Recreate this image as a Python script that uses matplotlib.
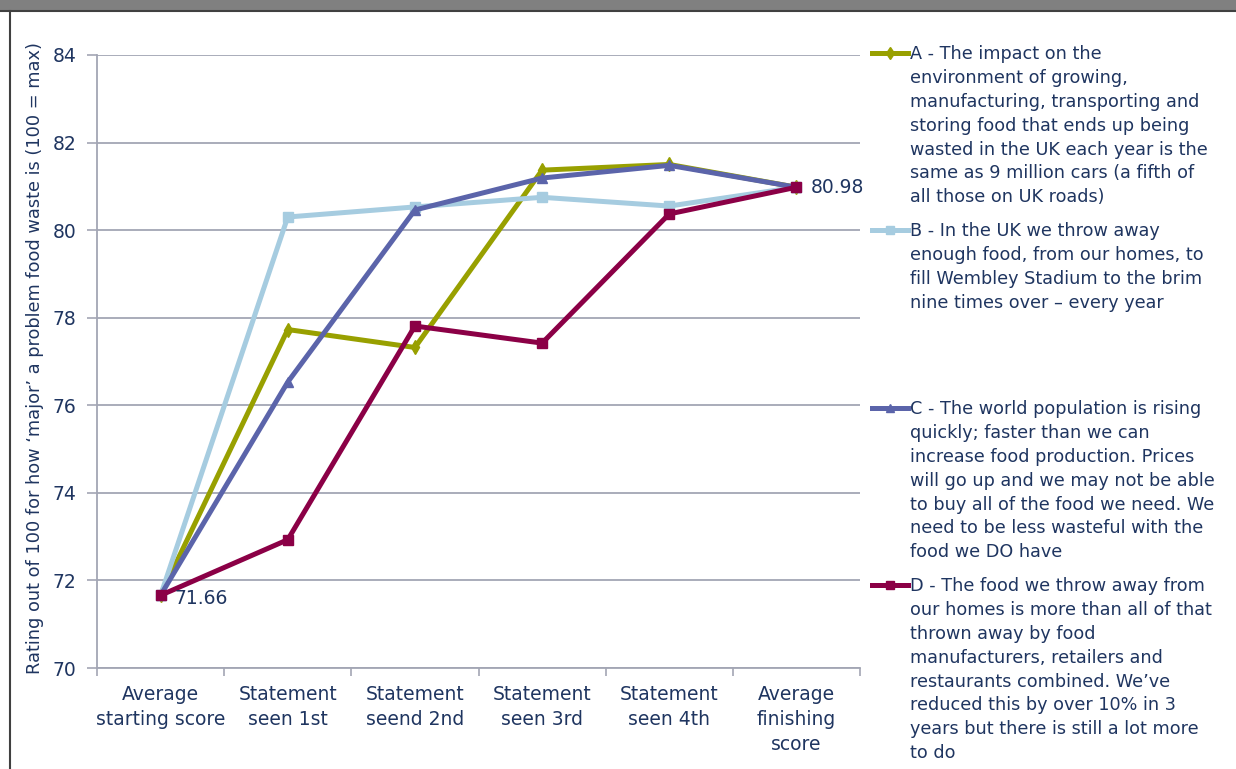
import matplotlib.pyplot as plt
from matplotlib.lines import Line2D
from matplotlib.patches import Rectangle

categories = ["Average\nstarting score", "Statement\nseen 1st", "Statement\nseend 2nd",
              "Statement\nseen 3rd", "Statement\nseen 4th", "Average\nfinishing\nscore"]

series_a = [71.66, 77.73, 77.32, 81.37, 81.50, 80.98]
series_b = [71.66, 80.30, 80.53, 80.75, 80.55, 80.98]
series_c = [71.66, 76.53, 80.46, 81.19, 81.48, 80.98]
series_d = [71.66, 72.93, 77.81, 77.42, 80.37, 80.98]

labels = [
    "A - The impact on the\nenvironment of growing,\nmanufacturing, transporting and\n"
    "storing food that ends up being\nwasted in the UK each year is the\n"
    "same as 9 million cars (a fifth of\nall those on UK roads)",
    "B - In the UK we throw away\nenough food, from our homes, to\n"
    "fill Wembley Stadium to the brim\nnine times over \u2013 every year",
    "C - The world population is rising\nquickly; faster than we can\n"
    "increase food production. Prices\nwill go up and we may not be able\n"
    "to buy all of the food we need. We\nneed to be less wasteful with the\nfood we DO have",
    "D - The food we throw away from\nour homes is more than all of that\n"
    "thrown away by food\nmanufacturers, retailers and\nrestaurants combined. We\u2019ve\n"
    "reduced this by over 10% in 3\nyears but there is still a lot more\nto do",
]

colors = ["#98A000", "#A6CCE0", "#5B64AA", "#8B0046"]
markers = ["d", "s", "^", "s"]
text_color = "#1F3560"
grid_color = "#A3A6B4"

plt.rcParams['font.family'] = ['DejaVu Sans']

W, H = 1236, 769
fig = plt.figure(figsize=(W / 100, H / 100), dpi=100)
ax = fig.add_axes([97 / W, 1 - 668 / H, (860 - 97) / W, (668 - 55) / H])

x = range(len(categories))
for vals, c, m in zip([series_a, series_b, series_c, series_d], colors, markers):
    ax.plot(x, vals, color=c, lw=3.6, marker=m, markersize=7, solid_joinstyle='miter')

ax.set_xlim(-0.5, len(categories) - 0.5)
ax.set_ylim(70, 84)
ax.set_yticks(range(70, 85, 2))
ax.set_xticks([i + 0.5 for i in range(-1, len(categories))], minor=False)
ax.set_xticklabels([])
ax.set_xticks(list(x), minor=True)
ax.set_xticklabels(categories, minor=True, fontsize=13.5, color=text_color, linespacing=1.4)
ax.tick_params(axis='x', which='minor', length=0, pad=12)
ax.tick_params(axis='x', which='major', length=6, color=grid_color, width=1.2)
ax.tick_params(axis='y', length=7, color=grid_color, width=1.2, labelsize=13.5,
               labelcolor=text_color, pad=8)
ax.yaxis.grid(True, color=grid_color, lw=1.3)
ax.set_axisbelow(True)
for s in ["top", "right"]:
    ax.spines[s].set_visible(False)
for s in ["left", "bottom"]:
    ax.spines[s].set_color(grid_color)
    ax.spines[s].set_linewidth(1.3)

ax.set_ylabel("Rating out of 100 for how \u2018major\u2019 a problem food waste is (100 = max)",
              fontsize=12.8, color=text_color, labelpad=8)
ax.yaxis.set_label_coords(-53 / (860 - 97), 0.506)

ax.annotate(f"{series_d[0]:.2f}", (0, series_d[0]), xytext=(10, -2), textcoords='offset points',
            va='center', ha='left', fontsize=13.5, color=text_color)
ax.annotate(f"{series_d[-1]:.2f}", (5, series_d[-1]), xytext=(10, 0), textcoords='offset points',
            va='center', ha='left', fontsize=13.5, color=text_color)

# legend built by hand
leg_y = [53, 230, 408, 585]
for yy, lab, c, m in zip(leg_y, labels, colors, markers):
    yf = 1 - yy / H
    fig.add_artist(Line2D([872 / W, 908 / W], [yf, yf], color=c, lw=3.6,
                          transform=fig.transFigure))
    fig.add_artist(Line2D([890 / W], [yf], color=c, marker=m, markersize=6,
                          transform=fig.transFigure))
    fig.text(910 / W, yf + 8 / H, lab, fontsize=12.7, color=text_color,
             va='top', ha='left', linespacing=1.42)

# header band and frame
fig.add_artist(Rectangle((0, 1 - 10 / H), 1, 10 / H, transform=fig.transFigure,
                         color="#808080", lw=0))
fig.add_artist(Line2D([0, 1], [1 - 11 / H, 1 - 11 / H], color="#404040", lw=1.5,
                      transform=fig.transFigure))
fig.add_artist(Line2D([10 / W, 10 / W], [0, 1 - 11 / H], color="#404040", lw=1.5,
                      transform=fig.transFigure))

plt.savefig("out.png", dpi=100)
